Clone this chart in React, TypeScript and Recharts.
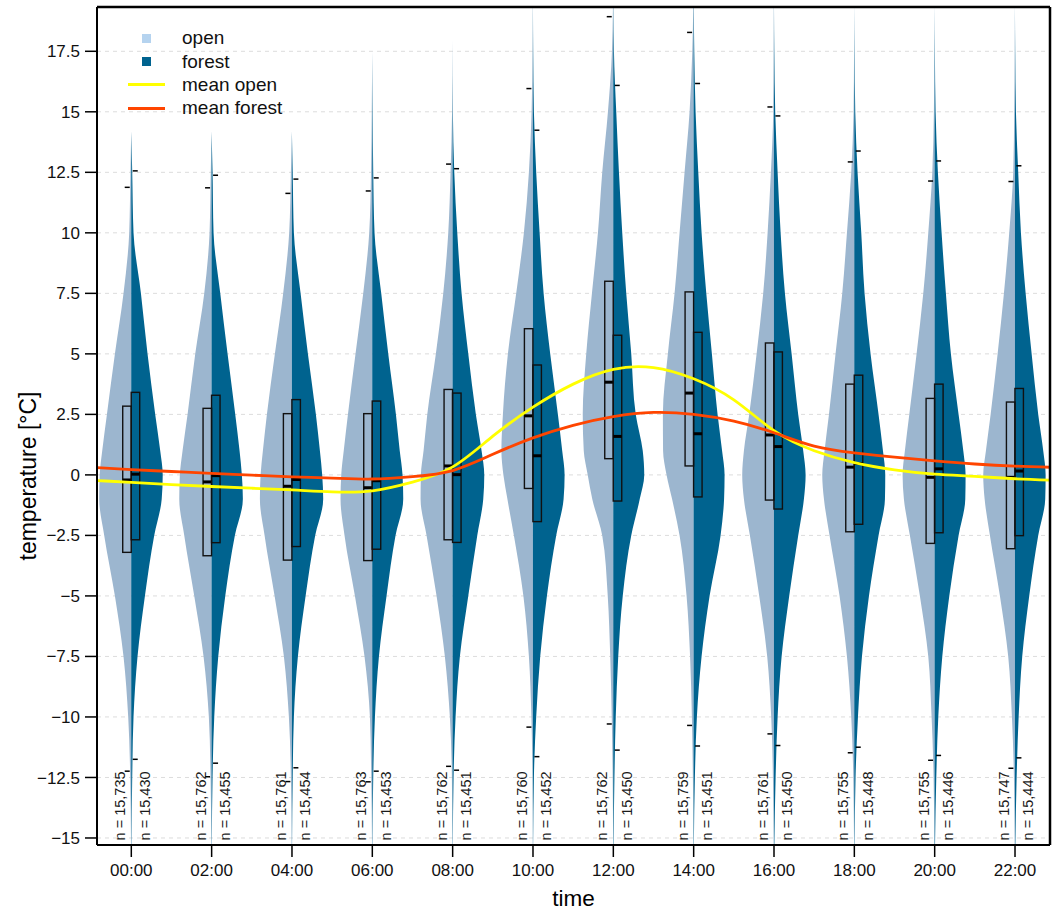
import React from 'react';
import { ComposedChart, Bar, Line, XAxis, YAxis, CartesianGrid, Legend, Curve, ReferenceLine } from 'recharts';

// ---------- data ----------
const HOURS = [0, 2, 4, 6, 8, 10, 12, 14, 16, 18, 20, 22];
const TIME_LABELS = ['00:00', '02:00', '04:00', '06:00', '08:00', '10:00', '12:00', '14:00', '16:00', '18:00', '20:00', '22:00'];
const Y_TICKS = [-15, -12.5, -10, -7.5, -5, -2.5, 0, 2.5, 5, 7.5, 10, 12.5, 15, 17.5];
const X_DOMAIN = [-0.854, 22.871];
const Y_DOMAIN = [-15.29, 19.33];

const N_OPEN = [15735, 15762, 15761, 15763, 15762, 15760, 15762, 15759, 15761, 15755, 15755, 15747];
const N_FOREST = [15430, 15455, 15454, 15453, 15451, 15452, 15450, 15451, 15450, 15448, 15446, 15444];

// box statistics
const OPEN_Q1 = [-3.2, -3.34, -3.52, -3.54, -2.68, -0.56, 0.67, 0.37, -1.04, -2.35, -2.83, -3.05];
const OPEN_MEDIAN = [-0.21, -0.29, -0.47, -0.53, 0.37, 2.44, 3.83, 3.38, 1.65, 0.32, -0.1, -0.1];
const OPEN_Q3 = [2.84, 2.75, 2.53, 2.53, 3.53, 6.04, 8.0, 7.56, 5.45, 3.75, 3.16, 3.01];
const OPEN_LOW = [-12.24, -12.47, -12.67, -12.68, -12.04, -10.42, -10.29, -10.35, -10.7, -11.48, -11.79, -12.12];
const OPEN_HIGH = [11.88, 11.86, 11.63, 11.73, 12.84, 15.96, 18.93, 18.28, 15.2, 12.93, 12.14, 12.12];

const FOREST_Q1 = [-2.68, -2.8, -2.96, -3.07, -2.79, -1.93, -1.08, -0.91, -1.41, -2.04, -2.39, -2.51];
const FOREST_MEDIAN = [0.03, -0.03, -0.19, -0.24, 0.01, 0.79, 1.59, 1.7, 1.17, 0.47, 0.25, 0.16];
const FOREST_Q3 = [3.41, 3.29, 3.11, 3.05, 3.38, 4.54, 5.77, 5.89, 5.08, 4.12, 3.75, 3.57];
const FOREST_LOW = [-11.75, -11.91, -12.1, -12.24, -12.2, -11.64, -11.37, -11.2, -11.18, -11.25, -11.59, -11.69];
const FOREST_HIGH = [12.56, 12.38, 12.22, 12.27, 12.65, 14.24, 16.09, 16.17, 14.83, 13.38, 12.97, 12.77];

// violin densities (relative, max ~32) at these temperature levels
const DENSITY_LEVELS = [-12.5, -10, -7.5, -5, -2.5, -1, 0, 1, 2.5, 5, 7.5, 10, 12.5, 15, 17.5];
const OPEN_DENSITY = [
  [1, 3, 7.7, 16.3, 27, 32, 31.5, 29, 24.3, 16.3, 7.7, 2, 0.8],
  [1, 2.7, 8, 17.3, 27.3, 32.3, 31.7, 29, 24, 16.3, 7.3, 2, 0.8],
  [1, 3, 8, 17.3, 27.3, 32, 31.3, 29, 25, 17, 8.7, 2.7, 1],
  [1, 2.3, 7.7, 17.3, 27.7, 31.7, 31, 28.5, 24.3, 16.7, 9, 3, 1.2, 0.5],
  [0.7, 2.7, 7.7, 16, 26, 32, 31.7, 29, 25.3, 16.7, 9.3, 4.3, 2, 0.5],
  [0.5, 1.5, 4, 9.5, 19, 25.5, 29.5, 31.5, 30, 25, 16.7, 9, 4, 1.3, 0.4],
  [0.6, 1.5, 3, 5.5, 11, 21, 25.5, 29.5, 30.5, 27, 21.3, 15.3, 11, 5.3, 1.3],
  [0.7, 1.7, 3.5, 7, 14, 21.5, 27, 30.5, 30.7, 25.7, 19, 14, 9, 4, 1.3],
  [1, 2.7, 6.7, 14.7, 24, 30, 31.7, 30, 24.7, 17.3, 10.7, 6.3, 3, 0.7, 0.3],
  [1, 3, 7.3, 14.7, 24.7, 30.3, 32, 29.7, 25.3, 18.7, 12, 7.3, 3, 0.7, 0.2],
  [1, 3, 6.3, 14.7, 24.7, 30.7, 32, 29.7, 25.3, 18, 11.3, 6.3, 2.3, 0.7, 0.2],
  [1, 3, 6.7, 15, 25, 30.3, 31.7, 29, 24.3, 17.3, 11, 5.7, 1.7, 0.7, 0.2],
];
const FOREST_DENSITY = [
  [1, 2.3, 6.3, 13.7, 23, 30.5, 31.5, 29, 24, 16.3, 9.7, 2.3, 1],
  [1, 2.7, 6.7, 13.7, 23.3, 31.3, 30.3, 28, 23.7, 16, 8.7, 2, 1],
  [0.8, 2, 6, 13.7, 23.3, 31.3, 30.3, 28, 24, 16, 8.7, 2, 0.8],
  [1, 2.7, 6.7, 14.3, 23.3, 31, 30.3, 27.5, 23.7, 16, 9, 2.3, 1, 0.4],
  [1, 3, 7.3, 15.7, 24.7, 30.7, 31.7, 29, 23.3, 15.7, 9, 4.7, 1.7, 0.3],
  [1, 3.3, 7.3, 14, 23.3, 30.7, 31.7, 29.3, 25, 17.3, 10.7, 6.7, 3.3, 1, 0.3],
  [1.2, 2.5, 5, 9.5, 18, 26.5, 31, 29.5, 22.5, 18, 13, 9, 5.7, 3, 0.7],
  [1.3, 3.3, 8, 16, 27, 30.5, 31, 28.5, 24, 18.3, 12.7, 8, 4.7, 2, 0.7],
  [1.7, 3.7, 7.7, 15.3, 24.3, 30, 31.7, 29.3, 24.3, 17.7, 11, 6.7, 3.7, 1.3, 0.4],
  [1.3, 3.7, 7.7, 14.7, 24.3, 30.7, 31, 28.7, 24.3, 16.3, 10.3, 7, 3.3, 1, 0.3],
  [1.7, 3.7, 7.7, 14.7, 24, 30.7, 31, 28.7, 24, 16.3, 11.3, 7, 3.3, 1, 0.3],
  [1.7, 3.7, 7.3, 14.3, 23.3, 30.3, 30.7, 28.3, 23.3, 16.7, 10.7, 6, 3.3, 1, 0.3],
];
const OPEN_TIP = [14.2, 14.2, 14.2, 17.5, 18, 20, 20.5, 20.5, 20, 19.5, 19.5, 19.5];
const FOREST_TIP = [14.2, 14.2, 14.2, 17.5, 18, 20, 20.5, 20.5, 20, 19.5, 19.5, 19.5];
const LOWER_TAIL = [-17, -17, -17, -17, -17, -17, -17, -17, -17, -17, -17, -17];

// hourly means
const MEAN_HOURS = [-1, 0, 1, 2, 3, 4, 5, 6, 7, 8, 9, 10, 11, 12, 13, 14, 15, 16, 17, 18, 19, 20, 21, 22, 23];
const MEAN_OPEN = [-0.22, -0.31, -0.4, -0.48, -0.55, -0.62, -0.7, -0.66, -0.3, 0.33, 1.6, 2.8, 3.75, 4.36, 4.43, 3.97, 3.1, 1.83, 1.0, 0.51, 0.21, 0.03, -0.06, -0.16, -0.22];
const MEAN_FOREST = [0.31, 0.22, 0.14, 0.06, -0.01, -0.08, -0.13, -0.17, -0.07, 0.18, 0.85, 1.53, 2.05, 2.41, 2.58, 2.5, 2.22, 1.74, 1.19, 0.91, 0.73, 0.58, 0.45, 0.36, 0.31];

// ---------- styles ----------
const FONT = '"Liberation Sans", Arial, Helvetica, sans-serif';
const OPEN_FILL = '#9cb6cf';
const FOREST_FILL = '#00638f';
const OPEN_LEGEND = '#b5d3ef';
const YELLOW = '#ffff00';
const RED = '#ff4500';
const DENSITY_MAX = 32;
const HALF_WIDTH = 32;
const BOX_W = 8.5;
const N_FONT = 14.5;

const violinRows = HOURS.map((h, i) => ({
  hour: h,
  idx: i,
  extent: [LOWER_TAIL[i], Math.max(OPEN_TIP[i], FOREST_TIP[i])],
}));
const meanOpenRows = MEAN_HOURS.map((h, i) => ({ hour: h, value: MEAN_OPEN[i] }));
const meanForestRows = MEAN_HOURS.map((h, i) => ({ hour: h, value: MEAN_FOREST[i] }));

const fmtN = (n: number) => 'n = ' + n.toLocaleString('en-US');
const fmtY = (v: number) => (v < 0 ? '\u2212' + Math.abs(v) : String(v));

function ViolinShape(props: any) {
  const { x, y, width, height } = props;
  const p = props.payload ?? props;
  if (p == null || p.idx == null || !isFinite(y) || !isFinite(height) || height === 0) return null;
  const i = p.idx;
  const [lo, hi] = p.extent;
  const cx = x + width / 2;
  const py = (v: number) => y + ((hi - v) / (hi - lo)) * height;

  const half = (dens: number[], tip: number, side: number) => {
    const pts: { x: number; y: number }[] = [{ x: cx, y: py(tip) }];
    for (let k = dens.length - 1; k >= 0; k--) {
      pts.push({ x: cx + side * (dens[k] / DENSITY_MAX) * HALF_WIDTH, y: py(DENSITY_LEVELS[k]) });
    }
    pts.push({ x: cx, y: py(lo) });
    return pts;
  };

  const boxStroke = '#111';
  const nY = py(-15.1);
  return (
    <g>
      <Curve type="monotoneY" layout="vertical" points={half(OPEN_DENSITY[i], OPEN_TIP[i], -1)} baseLine={cx} fill={OPEN_FILL} stroke="none" />
      <Curve type="monotoneY" layout="vertical" points={half(FOREST_DENSITY[i], FOREST_TIP[i], 1)} baseLine={cx} fill={FOREST_FILL} stroke="none" />
      {/* open box */}
      <rect x={cx - BOX_W} y={py(OPEN_Q3[i])} width={BOX_W} height={py(OPEN_Q1[i]) - py(OPEN_Q3[i])} fill="none" stroke={boxStroke} strokeWidth={1.4} />
      <line x1={cx - BOX_W} x2={cx} y1={py(OPEN_MEDIAN[i])} y2={py(OPEN_MEDIAN[i])} stroke="#000" strokeWidth={3} />
      <line x1={cx - 6.5} x2={cx - 1.5} y1={py(OPEN_HIGH[i])} y2={py(OPEN_HIGH[i])} stroke="#000" strokeWidth={1.5} />
      <line x1={cx - 6.5} x2={cx - 1.5} y1={py(OPEN_LOW[i])} y2={py(OPEN_LOW[i])} stroke="#000" strokeWidth={1.5} />
      {/* forest box */}
      <rect x={cx} y={py(FOREST_Q3[i])} width={BOX_W} height={py(FOREST_Q1[i]) - py(FOREST_Q3[i])} fill="none" stroke={boxStroke} strokeWidth={1.4} />
      <line x1={cx} x2={cx + BOX_W} y1={py(FOREST_MEDIAN[i])} y2={py(FOREST_MEDIAN[i])} stroke="#000" strokeWidth={3} />
      <line x1={cx + 1.5} x2={cx + 6.5} y1={py(FOREST_HIGH[i])} y2={py(FOREST_HIGH[i])} stroke="#000" strokeWidth={1.5} />
      <line x1={cx + 1.5} x2={cx + 6.5} y1={py(FOREST_LOW[i])} y2={py(FOREST_LOW[i])} stroke="#000" strokeWidth={1.5} />
      {/* n labels */}
      <text x={cx - 6} y={nY} transform={`rotate(-90 ${cx - 6} ${nY})`} fontSize={N_FONT} fontFamily={FONT} fill="#1a1a1a">
        {fmtN(N_OPEN[i])}
      </text>
      <text x={cx + 18.5} y={nY} transform={`rotate(-90 ${cx + 18.5} ${nY})`} fontSize={N_FONT} fontFamily={FONT} fill="#1a1a1a">
        {fmtN(N_FOREST[i])}
      </text>
    </g>
  );
}

const LEGEND_ITEMS = [
  { label: 'open', kind: 'square', color: OPEN_LEGEND },
  { label: 'forest', kind: 'square', color: FOREST_FILL },
  { label: 'mean open', kind: 'line', color: YELLOW },
  { label: 'mean forest', kind: 'line', color: RED },
];

function LegendContent() {
  return (
    <div style={{ fontFamily: FONT, fontSize: 19, color: '#111' }}>
      {LEGEND_ITEMS.map((it) => (
        <div key={it.label} style={{ display: 'flex', alignItems: 'center', height: 23.4, whiteSpace: 'nowrap' }}>
          <svg width={62} height={23} style={{ display: 'block' }}>
            {it.kind === 'square' ? (
              <rect x={22} y={7} width={9} height={9} fill={it.color} />
            ) : (
              <line x1={8} x2={45} y1={11.5} y2={11.5} stroke={it.color} strokeWidth={3} />
            )}
          </svg>
          <span>{it.label}</span>
        </div>
      ))}
    </div>
  );
}

const XTitle = (props: any) => {
  const vb = props.viewBox || {};
  return (
    <text x={vb.x + vb.width / 2} y={vb.y + 61} textAnchor="middle" fontSize={22.5} fontFamily={FONT} fill="#000">
      time
    </text>
  );
};

const YTitle = (props: any) => {
  const vb = props.viewBox || {};
  const tx = vb.x - 1;
  const ty = vb.y + vb.height / 2 + 50;
  return (
    <text x={tx} y={ty} transform={`rotate(-90 ${tx} ${ty})`} textAnchor="middle" fontSize={23} fontFamily={FONT} fill="#000">
      temperature [°C]
    </text>
  );
};

export default function App() {
  return (
    <div style={{ position: 'absolute', left: 0, top: 0, background: '#fff' }}>
      <ComposedChart width={1056} height={910} data={violinRows} margin={{ top: 7, right: 6, bottom: 0, left: 37 }}>
        <CartesianGrid vertical={false} stroke="#dcdcdc" strokeDasharray="4 4" />
        <XAxis
          dataKey="hour"
          type="number"
          domain={X_DOMAIN}
          allowDataOverflow
          ticks={HOURS}
          interval={0}
          tickFormatter={(h: number) => TIME_LABELS[HOURS.indexOf(h)] ?? ''}
          tick={{ fontSize: 17, fill: '#111', fontFamily: FONT }}
          tickLine={{ stroke: '#000', strokeWidth: 1.5 }}
          tickSize={12}
          tickMargin={7}
          axisLine={{ stroke: '#000', strokeWidth: 2 }}
          height={65}
          label={{ content: XTitle }}
        />
        <YAxis
          type="number"
          domain={Y_DOMAIN}
          allowDataOverflow
          ticks={Y_TICKS}
          interval={0}
          tickFormatter={fmtY}
          tick={{ fontSize: 17, fill: '#111', fontFamily: FONT }}
          tickLine={{ stroke: '#000', strokeWidth: 1.5 }}
          tickSize={12}
          tickMargin={5}
          axisLine={{ stroke: '#000', strokeWidth: 2 }}
          width={60}
          label={{ content: YTitle }}
        />
        <Bar dataKey="extent" barSize={20} shape={ViolinShape} isAnimationActive={false} />
        <Line data={meanOpenRows} dataKey="value" type="natural" stroke={YELLOW} strokeWidth={2.8} dot={false} activeDot={false} isAnimationActive={false} />
        <Line data={meanForestRows} dataKey="value" type="natural" stroke={RED} strokeWidth={2.8} dot={false} activeDot={false} isAnimationActive={false} />
        <ReferenceLine y={Y_DOMAIN[1]} stroke="#000" strokeWidth={2.5} ifOverflow="visible" />
        <ReferenceLine x={X_DOMAIN[1]} stroke="#000" strokeWidth={2.5} ifOverflow="visible" />
        <Legend layout="vertical" align="center" verticalAlign="middle" wrapperStyle={{ left: 120, top: 26.5, width: 220 }} content={LegendContent} />
      </ComposedChart>
    </div>
  );
}
